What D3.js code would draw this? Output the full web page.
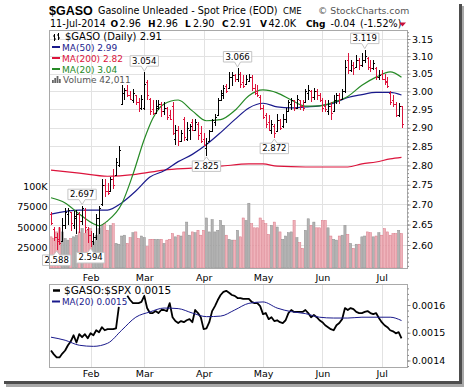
<!DOCTYPE html>
<html>
<head>
<meta charset="utf-8">
<script src="https://cdn.jsdelivr.net/npm/d3@7"></script>
<style>
body { margin: 0; background: #fff; }
svg text { font-family: "DejaVu Sans", sans-serif; }
</style>
</head>
<body>
<div id="chart"></div>
<script>
// 1: DATA
const months = ["Feb", "Mar", "Apr", "May", "Jun", "Jul"];
const monthStart = [14, 33, 54, 75, 96, 117]; // bar index of first trading day

const priceTicks = [2.60, 2.65, 2.70, 2.75, 2.80, 2.85, 2.90, 2.95, 3.00, 3.05, 3.10, 3.15];
const volTicks = [25, 50, 75, 100];              // thousands
const ratioTicks = [0.0014, 0.0015, 0.0016];

// daily bars: [open, high, low, close]
const ohlc = [
  [2.675,2.680,2.650,2.655],[2.640,2.645,2.610,2.620],[2.620,2.630,2.588,2.610],[2.615,2.645,2.600,2.605],
  [2.610,2.665,2.610,2.650],[2.650,2.690,2.640,2.680],[2.675,2.690,2.650,2.685],[2.680,2.680,2.635,2.655],
  [2.650,2.683,2.640,2.670],[2.665,2.685,2.628,2.675],[2.675,2.680,2.630,2.660],[2.660,2.697,2.650,2.690],
  [2.685,2.690,2.630,2.645],[2.640,2.645,2.605,2.625],[2.625,2.635,2.594,2.610],[2.610,2.630,2.600,2.620],
  [2.620,2.676,2.612,2.665],[2.665,2.697,2.628,2.690],[2.700,2.764,2.697,2.750],[2.750,2.764,2.720,2.735],
  [2.735,2.755,2.725,2.730],[2.735,2.770,2.735,2.765],[2.765,2.790,2.740,2.750],[2.775,2.820,2.775,2.810],
  [2.800,2.850,2.795,2.840],[2.965,3.018,2.963,2.995],[2.995,3.010,2.976,3.005],[3.005,3.018,2.985,2.990],
  [2.990,3.000,2.976,2.980],[2.975,3.008,2.968,2.995],[2.990,2.990,2.963,2.970],[2.970,2.982,2.943,2.955],
  [2.955,2.990,2.949,2.980],[2.955,3.054,2.949,3.020],[3.025,3.032,2.976,2.990],[2.980,2.982,2.935,2.945],
  [2.950,2.976,2.935,2.940],[2.940,2.976,2.940,2.960],[2.955,2.976,2.949,2.965],[2.965,2.970,2.930,2.945],
  [2.945,2.970,2.935,2.955],[2.955,2.958,2.920,2.930],[2.935,2.949,2.920,2.925],[2.960,2.970,2.880,2.885],
  [2.870,2.908,2.855,2.895],[2.895,2.905,2.850,2.865],[2.865,2.895,2.865,2.885],[2.925,2.930,2.865,2.875],
  [2.870,2.915,2.865,2.900],[2.895,2.910,2.868,2.905],[2.915,2.925,2.890,2.895],[2.895,2.925,2.895,2.915],
  [2.910,2.915,2.868,2.880],[2.885,2.905,2.860,2.865],[2.870,2.885,2.850,2.855],[2.845,2.872,2.825,2.860],
  [2.865,2.895,2.865,2.890],[2.890,2.925,2.890,2.920],[2.915,2.938,2.905,2.930],[2.935,2.982,2.935,2.975],
  [2.975,3.004,2.975,2.995],[2.990,3.018,2.980,3.010],[3.015,3.020,2.995,3.000],[3.010,3.054,3.010,3.040],
  [3.040,3.055,3.015,3.045],[3.045,3.050,3.025,3.035],[3.035,3.066,3.025,3.050],[3.050,3.055,3.010,3.020],
  [3.025,3.046,3.010,3.015],[3.020,3.046,3.018,3.035],[3.030,3.050,3.025,3.040],[3.040,3.046,3.000,3.010],
  [3.010,3.020,2.990,2.995],[3.000,3.018,2.985,2.990],[2.985,2.990,2.949,2.955],[2.955,2.963,2.925,2.930],
  [2.935,2.940,2.900,2.910],[2.915,2.935,2.890,2.895],[2.895,2.922,2.882,2.910],[2.905,2.910,2.872,2.885],
  [2.890,2.938,2.890,2.920],[2.920,2.925,2.895,2.900],[2.905,2.938,2.900,2.925],[2.925,2.955,2.912,2.945],
  [2.945,2.976,2.945,2.970],[2.965,2.982,2.949,2.975],[2.975,2.976,2.945,2.955],[2.955,2.990,2.952,2.980],
  [2.975,2.976,2.949,2.960],[2.960,2.975,2.945,2.955],[2.970,3.008,2.970,3.000],[2.995,3.018,2.976,3.005],
  [3.000,3.004,2.970,2.985],[2.985,3.010,2.976,3.000],[3.000,3.008,2.976,2.990],[2.990,2.995,2.970,2.975],
  [2.975,2.982,2.943,2.955],[2.960,2.976,2.943,2.950],[2.945,2.976,2.935,2.960],[2.960,2.970,2.922,2.940],
  [2.945,2.990,2.945,2.975],[2.975,2.995,2.965,2.990],[2.990,2.995,2.965,2.980],[2.980,3.008,2.976,3.000],
  [3.000,3.089,2.996,3.070],[3.090,3.110,3.050,3.060],[3.060,3.089,3.055,3.075],[3.075,3.083,3.046,3.065],
  [3.070,3.103,3.065,3.090],[3.090,3.095,3.060,3.075],[3.075,3.109,3.068,3.090],[3.090,3.119,3.080,3.100],
  [3.095,3.097,3.060,3.070],[3.070,3.089,3.055,3.065],[3.065,3.089,3.060,3.080],[3.065,3.068,3.032,3.040],
  [3.040,3.060,3.032,3.045],[3.050,3.060,3.032,3.035],[3.035,3.050,3.018,3.025],[3.030,3.040,3.010,3.015],
  [2.995,3.000,2.963,2.970],[2.975,2.990,2.958,2.965],[2.965,2.970,2.930,2.935],[2.935,2.968,2.930,2.960],
  [2.960,2.960,2.900,2.910]
];

// volume in thousands
const volumeK = [
  38,36,44,49,44,36,34,36,38,40, 44,48,42,46,48,32,40,48,52,54,
  46,52,54,30,29,39,40,30,37,43, 44,36,39,37,26,35,35,35,35,35,
  30,34,35,42,38,40,39,44,56,40, 44,43,46,40,46,61,44,59,44,46,
  58,52,40,35,34,34,46,38,61,58, 79,54,49,49,61,58,54,41,52,56,
  50,44,35,39,43,44,58,37,31,24, 46,60,52,56,49,49,58,58,49,39,
  35,34,39,40,52,41,30,24,29,29, 38,39,44,43,38,39,43,40,48,44,
  40,42,42,46,42.011
];

// moving averages, read at [bar index, value]
const ma50 = [[0,2.676],[10,2.686],[20,2.686],[25,2.704],[30,2.734],[35,2.770],[40,2.786],[45,2.810],
  [50,2.829],[55,2.855],[60,2.887],[65,2.922],[70,2.954],[75,2.967],[80,2.957],[85,2.954],[90,2.957],
  [95,2.960],[100,2.967],[105,2.983],[110,2.991],[115,2.997],[120,2.997],[124,2.990]];
const ma200 = [[0,2.788],[10,2.780],[20,2.772],[30,2.777],[40,2.788],[50,2.793],[60,2.798],[70,2.804],
  [75,2.804],[80,2.798],[90,2.796],[100,2.796],[105,2.796],[110,2.804],[115,2.809],[120,2.817],[124,2.821]];
const ma20 = [[0,2.717],[5,2.704],[10,2.676],[15,2.652],[17,2.647],[20,2.659],[25,2.701],[29,2.777],
  [33,2.869],[36,2.925],[40,2.965],[45,2.976],[50,2.946],[55,2.919],[60,2.922],[65,2.947],[70,2.988],
  [75,3.004],[80,2.996],[85,2.976],[90,2.959],[95,2.960],[100,2.970],[105,2.986],[110,3.017],
  [115,3.040],[120,3.055],[124,3.040]];

// $GASO:$SPX ratio (null = no value)
const ratio = [
  0.001436,0.001422,0.001411,0.001411,0.001425,0.001436,0.001455,0.001469,0.001491,0.001465,
  0.001495,0.001484,0.001495,0.001480,0.001498,0.001491,0.001509,0.001502,0.001520,0.001509,
  0.001513,0.001513,0.001513,0.001516,0.001593,null,null,0.001633,0.001618,0.001607,
  0.001607,0.001607,0.001611,0.001633,0.001589,0.001571,0.001571,0.001578,0.001571,0.001582,
  0.001582,0.001578,0.001607,0.001556,0.001542,0.001535,0.001542,0.001538,0.001545,0.001549,
  0.001538,0.001582,0.001571,0.001556,0.001513,0.001516,0.001538,0.001578,0.001596,0.001618,
  0.001636,0.001647,0.001651,0.001644,0.001636,0.001633,0.001625,0.001625,0.001622,0.001622,
  0.001622,0.001611,0.001607,0.001607,0.001596,0.001567,0.001571,0.001549,0.001556,0.001542,
  0.001545,0.001538,0.001535,0.001545,0.001571,0.001582,0.001575,0.001575,0.001575,0.001575,
  0.001582,0.001571,0.001556,0.001564,0.001556,0.001545,0.001538,0.001527,0.001520,0.001513,
  0.001509,0.001527,0.001535,0.001549,0.001589,0.001582,0.001589,0.001585,0.001575,0.001571,
  0.001571,0.001575,0.001578,0.001571,0.001567,0.001571,0.001553,0.001538,0.001527,0.001520,
  0.001509,0.001505,0.001498,0.001502,0.001480
];
const ratioMa20 = [[0,0.001484],[5,0.001473],[10,0.001455],[15,0.001451],[20,0.001462],[25,0.001509],
  [30,0.001556],[35,0.001575],[40,0.001589],[45,0.001587],[50,0.001571],[55,0.001558],[60,0.001560],
  [65,0.001582],[70,0.001606],[75,0.001611],[80,0.001589],[85,0.001576],[90,0.001569],[95,0.001556],
  [100,0.001553],[105,0.001553],[110,0.001556],[115,0.001556],[120,0.001556],[124,0.001544]];

// labelled extremes: [bar index, value, "high"/"low"]
const callouts = [[2,2.588,"low"],[14,2.594,"low"],[11,2.697,"high"],[33,3.054,"high"],
  [55,2.825,"low"],[66,3.066,"high"],[79,2.872,"low"],[111,3.119,"high"]];

// 2: SETUP
const W = 464, H = 387;
const main = { left: 49, right: 407, top: 30, bottom: 268 };
const lower = { left: 49, right: 407, top: 284, bottom: 367 };
const RED = "#dc143c", BLUE = "#1a1a8c", GREEN = "#268a26", GRID = "#e2e2e2", FRAME = "#a9a9a9";

const svg = d3.select("#chart").append("svg")
  .attr("width", W).attr("height", H);

svg.append("rect").attr("width", W).attr("height", H).attr("fill", "#fff");

const x = d3.scaleLinear().domain([0, ohlc.length - 1]).range([51, 401.5]);
const y = d3.scaleLog().domain([3.15, 2.60]).range([39, 245]);
const yVol = d3.scaleLinear().domain([0, 100]).range([main.bottom, 186]);
const yRatio = d3.scaleLinear().domain([0.0014, 0.0016]).range([360.5, 305]);

const px = i => Math.round(x(i)) + 0.5;

// 3: GRIDLINES
const grid = svg.append("g").attr("stroke", GRID).attr("shape-rendering", "crispEdges");
priceTicks.forEach(t => {
  const yy = Math.round(y(t)) + 0.5;
  grid.append("line").attr("x1", main.left).attr("x2", main.right).attr("y1", yy).attr("y2", yy);
});
monthStart.forEach(m => {
  grid.append("line").attr("x1", px(m)).attr("x2", px(m)).attr("y1", main.top).attr("y2", main.bottom);
  grid.append("line").attr("x1", px(m)).attr("x2", px(m)).attr("y1", lower.top).attr("y2", lower.bottom);
});

// 4: VOLUME BARS
const isDown = i => i === 0 ? ohlc[0][3] < ohlc[0][0] : ohlc[i][3] < ohlc[i - 1][3];
svg.append("g").selectAll("rect").data(volumeK).join("rect")
  .attr("x", (d, i) => x(i) - 1.1)
  .attr("width", 2.2)
  .attr("y", d => yVol(d))
  .attr("height", d => main.bottom - yVol(d))
  .attr("fill", (d, i) => isDown(i) ? "#efb3bb" : "#b3b3b3")
  .attr("stroke", (d, i) => isDown(i) ? "#d97a88" : "#8f8f8f")
  .attr("stroke-width", 0.5);

// 5: MOVING AVERAGES
const maLine = d3.line().x(d => x(d[0])).y(d => y(d[1])).curve(d3.curveMonotoneX);
[[ma200, RED], [ma50, BLUE], [ma20, GREEN]].forEach(([pts, col]) => {
  svg.append("path").datum(pts).attr("fill", "none").attr("stroke", col)
    .attr("stroke-width", 1.2).attr("d", maLine);
});

// 6: PRICE BARS
svg.append("g").selectAll("path").data(ohlc).join("path")
  .attr("fill", "none")
  .attr("stroke", (d, i) => isDown(i) ? RED : "#000")
  .attr("stroke-width", 1)
  .attr("shape-rendering", "crispEdges")
  .attr("d", (d, i) => {
    const xx = px(i);
    const yo = Math.round(y(d[0])) + 0.5, yc = Math.round(y(d[3])) + 0.5;
    return `M${xx},${y(d[1])}V${y(d[2])}M${xx - 1.5},${yo}H${xx}M${xx},${yc}H${xx + 1.5}`;
  });

// 7: CALLOUTS
callouts.forEach(([i, v, kind]) => {
  const cx = x(i), tip = y(v);
  const label = svg.append("text").attr("font-size", 8.5).attr("text-anchor", "middle")
    .text(v.toFixed(3));
  const w = label.node().getComputedTextLength() + 4, h = 10.5;
  const l = cx - w / 2, r = cx + w / 2;
  let d, ty;
  if (kind === "high") {
    const b = tip - 6, t = b - h;
    d = `M${l},${t}H${r}V${b}H${cx + 3}L${cx},${tip - 1}L${cx - 3},${b}H${l}Z`;
    ty = b - 2.5;
  } else {
    const t = tip + 5, b = t + h;
    d = `M${l},${t}H${cx - 3}L${cx},${tip + 1}L${cx + 3},${t}H${r}V${b}H${l}Z`;
    ty = b - 2.5;
  }
  svg.insert("path", () => label.node()).attr("d", d)
    .attr("fill", "#fff").attr("stroke", "#c4c4c4").attr("stroke-width", 1);
  label.attr("x", cx).attr("y", ty);
});

// 8: LOWER PANEL LINES
const rLine = d3.line().defined(d => d !== null)
  .x((d, i) => x(i)).y(d => yRatio(d));
svg.append("path").datum(ratio).attr("fill", "none").attr("stroke", "#000")
  .attr("stroke-width", 1.8).attr("stroke-linejoin", "round").attr("d", rLine);
svg.append("path").datum(ratioMa20).attr("fill", "none").attr("stroke", BLUE)
  .attr("stroke-width", 1)
  .attr("d", d3.line().x(d => x(d[0])).y(d => yRatio(d[1])).curve(d3.curveMonotoneX));

// 9: PANEL FRAMES
[main, lower].forEach(p => {
  svg.append("rect").attr("x", p.left + 0.5).attr("y", p.top + 0.5)
    .attr("width", p.right - p.left).attr("height", p.bottom - p.top)
    .attr("fill", "none").attr("stroke", FRAME).attr("shape-rendering", "crispEdges");
});

// 10: AXES
function styleAxis(g, size) {
  g.select(".domain").remove();
  g.selectAll(".tick line").attr("stroke", "#888");
  g.selectAll("text").attr("font-size", size).attr("fill", "#000");
}

svg.append("g").attr("transform", `translate(${main.right + 0.5},0)`)
  .call(d3.axisRight(y).tickValues(d3.range(2.55, 3.175, 0.01)).tickSize(1.5).tickFormat(""))
  .call(g => styleAxis(g, 9));
svg.append("g").attr("transform", `translate(${main.right + 0.5},0)`)
  .call(d3.axisRight(y).tickValues(priceTicks).tickSize(3).tickPadding(1.5).tickFormat(d3.format(".2f")))
  .call(g => styleAxis(g, 9.5));

svg.append("g").attr("transform", `translate(${main.left - 1.5},0)`)
  .call(d3.axisLeft(yVol).tickValues(volTicks).tickSize(0).tickPadding(0)
    .tickFormat(d => d === 100 ? "100K" : String(d * 1000)))
  .call(g => styleAxis(g, 9.5));

svg.append("g").attr("transform", `translate(${lower.right + 0.5},0)`)
  .call(d3.axisRight(yRatio).tickValues(d3.range(0.00138, 0.001661, 0.00002)).tickSize(1.5).tickFormat(""))
  .call(g => styleAxis(g, 9));
svg.append("g").attr("transform", `translate(${lower.right + 0.5},0)`)
  .call(d3.axisRight(yRatio).tickValues(ratioTicks).tickSize(3).tickPadding(1.5).tickFormat(d3.format(".4f")))
  .call(g => styleAxis(g, 9.5));

const xAxis = d3.axisBottom(x).tickValues(monthStart).tickSize(0)
  .tickFormat((d, i) => months[i]);
svg.append("g").attr("transform", `translate(0,${main.bottom})`)
  .call(xAxis.tickPadding(6)).call(g => styleAxis(g, 9.5));
svg.append("g").attr("transform", `translate(0,${lower.bottom})`)
  .call(xAxis.tickPadding(3)).call(g => styleAxis(g, 9.5));

// 11: TITLE LINES
svg.append("text").attr("x", 49).attr("y", 15)
  .style("font-family", "'Liberation Sans', Arial, sans-serif").style("font-weight", "bold")
  .style("font-size", "12.5px").text("$GASO");
svg.append("text").attr("x", 98).attr("y", 14).attr("font-size", 9.6)
  .text("Gasoline Unleaded - Spot Price (EOD)");
svg.append("text").attr("x", 283).attr("y", 14).attr("font-size", 8.5).text("CME");
svg.append("text").attr("x", 318).attr("y", 14).attr("font-size", 9.3).attr("fill", "#555")
  .text("© StockCharts.com");

const quote = [["11-Jul-2014", 50, false], ["O", 110.5, true], ["2.96", 119.5, false],
  ["H", 148, true], ["2.96", 156.5, false], ["L", 185, true], ["2.90", 193, false],
  ["C", 222, true], ["2.91", 230, false], ["V", 260, true], ["42.0K", 268.5, false],
  ["Chg", 306, true], ["-0.04", 330.5, false], ["(-1.52%)", 360, false]];
quote.forEach(([t, xx, bold]) => {
  svg.append("text").attr("x", xx).attr("y", 27).attr("font-size", bold ? 9 : 9.6)
    .attr("font-weight", bold ? "bold" : "normal").text(t);
});
svg.append("path").attr("d", "M399,22.5L406,22.5L402.5,26.5Z").attr("fill", "#c8103c");

// 12: LEGENDS
const leg = svg.append("g");
// bar icon
leg.append("path").attr("d", "M54.5,34V41M53,36H54.5M54.5,39H56M58.5,33V40M57,35H58.5M58.5,38H60")
  .attr("stroke", "#000").attr("fill", "none");
leg.append("text").attr("x", 65).attr("y", 40).attr("font-size", 10).text("$GASO (Daily) 2.91");
[["MA(50) 2.99", BLUE, 50.5], ["MA(200) 2.82", RED, 61.5], ["MA(20) 3.04", GREEN, 72.5]]
  .forEach(([t, col, yy]) => {
    leg.append("line").attr("x1", 52).attr("x2", 60).attr("y1", yy - 3.5).attr("y2", yy - 3.5)
      .attr("stroke", col).attr("stroke-width", 2);
    leg.append("text").attr("x", 62).attr("y", yy).attr("font-size", 9).attr("fill", col).text(t);
  });
[3, 5, 7, 4].forEach((hh, k) => {
  leg.append("rect").attr("x", 52 + k * 2.3).attr("y", 83 - hh).attr("width", 1.8).attr("height", hh)
    .attr("fill", "#666");
});
leg.append("text").attr("x", 63).attr("y", 83).attr("font-size", 9).attr("fill", "#555")
  .text("Volume 42,011");

leg.append("line").attr("x1", 53).attr("x2", 60).attr("y1", 290.5).attr("y2", 290.5)
  .attr("stroke", "#000").attr("stroke-width", 2.5);
leg.append("text").attr("x", 64).attr("y", 294).attr("font-size", 10.5).text("$GASO:$SPX 0.0015");
leg.append("line").attr("x1", 52).attr("x2", 60).attr("y1", 301.5).attr("y2", 301.5)
  .attr("stroke", BLUE).attr("stroke-width", 2);
leg.append("text").attr("x", 62).attr("y", 305).attr("font-size", 8.8).attr("fill", BLUE)
  .text("MA(20) 0.0015");

// 13: DROP SHADOW FRAME
svg.append("rect").attr("x", 459).attr("y", 4).attr("width", 3).attr("height", 380).attr("fill", "#4d4d4d");
svg.append("rect").attr("x", 462).attr("y", 6).attr("width", 2).attr("height", 381).attr("fill", "#a8a8a8");
svg.append("rect").attr("x", 4).attr("y", 381).attr("width", 458).attr("height", 3).attr("fill", "#4d4d4d");
svg.append("rect").attr("x", 6).attr("y", 384).attr("width", 458).attr("height", 3).attr("fill", "#a8a8a8");
</script>
</body>
</html>
